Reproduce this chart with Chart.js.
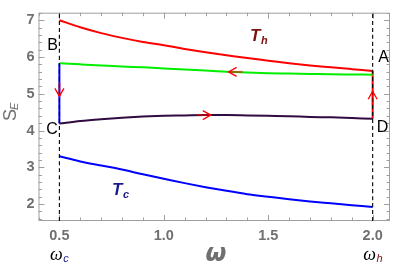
<!DOCTYPE html>
<html>
<head>
<meta charset="utf-8">
<script src="https://cdn.jsdelivr.net/npm/chart.js@4"></script>
<style>
  body { margin: 0; background: #fff; }
  #c { display: block; }
</style>
</head>
<body>
<canvas id="c" width="396" height="273"></canvas>
<script>
// Datos
const omega   = [0.5, 0.6, 0.7, 0.8, 0.9, 1.0, 1.1, 1.2, 1.3, 1.4, 1.5, 1.6, 1.7, 1.8, 1.9, 2.0];
const sTh     = [7.00, 6.81, 6.65, 6.52, 6.41, 6.32, 6.22, 6.13, 6.05, 5.97, 5.90, 5.83, 5.77, 5.72, 5.67, 5.62];
const sAB     = [5.83, 5.80, 5.77, 5.74, 5.72, 5.69, 5.66, 5.63, 5.60, 5.58, 5.56, 5.55, 5.54, 5.53, 5.525, 5.52];
const sCD     = [4.19, 4.26, 4.31, 4.35, 4.38, 4.40, 4.41, 4.42, 4.42, 4.41, 4.40, 4.39, 4.37, 4.36, 4.34, 4.32];
const sTc     = [3.30, 3.16, 3.05, 2.94, 2.81, 2.69, 2.57, 2.46, 2.36, 2.27, 2.20, 2.13, 2.07, 2.02, 1.97, 1.92];
const xTicks  = [0.5, 1.0, 1.5, 2.0];
const yTicks  = [2, 3, 4, 5, 6, 7];
const wc = 0.5, wh = 2.0;

// flechas: [omega, S, direccion]
const flechas = [
  [1.31, 5.595, 'left'],
  [1.225, 4.42, 'right'],
  [0.5, 4.93, 'down'],
  [2.0, 5.07, 'up']
];

const X_MIN = 0.4, X_MAX = 2.083, Y_MIN = 1.54, Y_MAX = 7.205;

function pts(xs, ys) { return xs.map((x, i) => ({ x: x, y: ys[i] })); }

function linea(data, color, extra) {
  return Object.assign({
    data: data, borderColor: color, borderWidth: 2,
    pointRadius: 0, cubicInterpolationMode: 'monotone', fill: false, showLine: true
  }, extra || {});
}

const datasets = [
  linea([{ x: wc, y: Y_MIN }, { x: wc, y: Y_MAX }], '#000', { borderWidth: 1.1, borderDash: [4, 3] }),
  linea([{ x: wh, y: Y_MIN }, { x: wh, y: Y_MAX }], '#000', { borderWidth: 1.1, borderDash: [4, 3] }),
  linea(pts(omega, sTh), '#ff0000'),
  linea(pts(omega, sAB), '#00ee00'),
  linea(pts(omega, sCD), '#300a40'),
  linea(pts(omega, sTc), '#0000ff'),
  linea([{ x: wc, y: sAB[0] }, { x: wc, y: sCD[0] }], '#0000ff'),
  linea([{ x: wh, y: sCD[sCD.length - 1] }, { x: wh, y: sTh[sTh.length - 1] }], '#ff0000')
];

const gris = '#707070';
const fuente = '"Liberation Sans", Arial, sans-serif';

const marco = {
  id: 'marco',
  beforeDatasetsDraw(chart) {
    const ctx = chart.ctx, a = chart.chartArea;
    const xs = chart.scales.x, ys = chart.scales.y;
    ctx.save();
    ctx.strokeStyle = '#a0a0a0';
    ctx.lineWidth = 1;
    ctx.strokeRect(a.left + 0.5, a.top + 0.5, a.right - a.left - 1, a.bottom - a.top - 1);
    ctx.beginPath();
    for (let k = 4; k <= 20; k++) {
      const v = k / 10;
      if (v < X_MIN || v > X_MAX) continue;
      const px = Math.round(xs.getPixelForValue(v)) + 0.5;
      const L = (k % 5 === 0) ? 6 : 3.5;
      ctx.moveTo(px, a.bottom); ctx.lineTo(px, a.bottom - L);
      ctx.moveTo(px, a.top); ctx.lineTo(px, a.top + L);
    }
    for (let k = 8; k <= 36; k++) {
      const v = k / 5;
      if (v < Y_MIN || v > Y_MAX) continue;
      const py = Math.round(ys.getPixelForValue(v)) + 0.5;
      const L = (k % 5 === 0) ? 6 : 3.5;
      ctx.moveTo(a.left, py); ctx.lineTo(a.left + L, py);
      ctx.moveTo(a.right, py); ctx.lineTo(a.right - L, py);
    }
    ctx.stroke();
    ctx.restore();
  },
  afterDatasetsDraw(chart) {
    const ctx = chart.ctx;
    const xs = chart.scales.x, ys = chart.scales.y;
    ctx.save();
    // flechas
    flechas.forEach(f => {
      const px = xs.getPixelForValue(f[0]), py = ys.getPixelForValue(f[1]);
      let dx = 0, dy = 0;
      if (f[2] === 'left') dx = -1;
      if (f[2] === 'right') dx = 1;
      if (f[2] === 'up') dy = -1;
      if (f[2] === 'down') dy = 1;
      const L = 8, W = 4.5;
      ctx.strokeStyle = 'rgba(255,0,0,0.55)';
      ctx.lineWidth = 2;
      ctx.beginPath();
      ctx.moveTo(px, py); ctx.lineTo(px - dx * 14, py - dy * 14);
      ctx.stroke();
      ctx.strokeStyle = '#ff0000';
      ctx.lineWidth = 1.3;
      ctx.beginPath();
      ctx.moveTo(px - dx * L + dy * W, py - dy * L + dx * W);
      ctx.lineTo(px, py);
      ctx.lineTo(px - dx * L - dy * W, py - dy * L - dx * W);
      ctx.stroke();
    });
    // letras A B C D
    ctx.fillStyle = '#000';
    ctx.font = '16px ' + fuente;
    ctx.textAlign = 'center';
    ctx.textBaseline = 'middle';
    ctx.fillText('A', 383.5, 57.5);
    ctx.fillText('B', 52.5, 46);
    ctx.fillText('C', 52, 130);
    ctx.fillText('D', 382.5, 127.5);
    // T_h y T_c
    function etiqueta(txt, sub, x, y, color) {
      ctx.fillStyle = color;
      ctx.textAlign = 'left';
      ctx.font = 'italic bold 17px ' + fuente;
      ctx.fillText(txt, x, y);
      const w = ctx.measureText(txt).width;
      ctx.font = 'italic bold 11px ' + fuente;
      ctx.fillText(sub, x + w + 0.5, y + 5);
    }
    etiqueta('T', 'h', 250, 36, '#7a1010');
    etiqueta('T', 'c', 112, 190, '#1a1a8c');
    // omega_c, omega_h
    function omegaSub(x, sub, color) {
      ctx.font = 'italic 18px "Liberation Serif", "DejaVu Serif", serif';
      ctx.textAlign = 'left';
      const w = ctx.measureText('\u03c9').width;
      ctx.fillStyle = '#000';
      ctx.fillText('\u03c9', x - (w + 6) / 2, 255);
      ctx.font = 'italic 11px ' + fuente;
      ctx.fillStyle = color;
      ctx.fillText(sub, x - (w + 6) / 2 + w + 0.5, 259);
    }
    omegaSub(xs.getPixelForValue(wc), 'c', '#1a1a8c');
    omegaSub(xs.getPixelForValue(wh), 'h', '#7a1010');
    // titulo eje x
    ctx.fillStyle = gris;
    ctx.textAlign = 'center';
    ctx.font = 'italic bold 24px "DejaVu Sans", sans-serif';
    ctx.fillText('\u03c9', 216, 255);
    // titulo eje y
    ctx.translate(11, 112);
    ctx.rotate(-Math.PI / 2);
    ctx.font = '18px ' + fuente;
    ctx.textAlign = 'left';
    ctx.fillText('S', -9, 0);
    ctx.font = 'italic 11px ' + fuente;
    ctx.fillText('E', 2, 4);
    ctx.restore();
  }
};

window.onload = function () {
  const ctx = document.getElementById('c');
  new Chart(ctx, {
    type: 'scatter',
    data: { datasets: datasets },
    options: {
      responsive: false,
      animation: false,
      layout: { padding: { left: 0, right: 6, top: 2, bottom: 0 } },
      plugins: { legend: { display: false }, tooltip: { enabled: false } },
      scales: {
        x: {
          type: 'linear', min: X_MIN, max: X_MAX,
          grid: { display: false, drawTicks: false },
          border: { display: false },
          afterBuildTicks: s => { s.ticks = xTicks.map(v => ({ value: v })); },
          afterFit: s => { s.height = 52; },
          ticks: {
            padding: 6, color: gris, maxRotation: 0,
            font: { size: 14.5, weight: 'bold', family: fuente },
            callback: v => v.toFixed(1)
          }
        },
        y: {
          type: 'linear', min: Y_MIN, max: Y_MAX,
          grid: { display: false, drawTicks: false },
          border: { display: false },
          afterBuildTicks: s => { s.ticks = yTicks.map(v => ({ value: v })); },
          afterFit: s => { s.width = 38.5; },
          ticks: {
            padding: 4, color: gris,
            font: { size: 14.5, weight: 'bold', family: fuente },
            callback: v => String(v)
          }
        }
      }
    },
    plugins: [marco]
  });
};
</script>
</body>
</html>
